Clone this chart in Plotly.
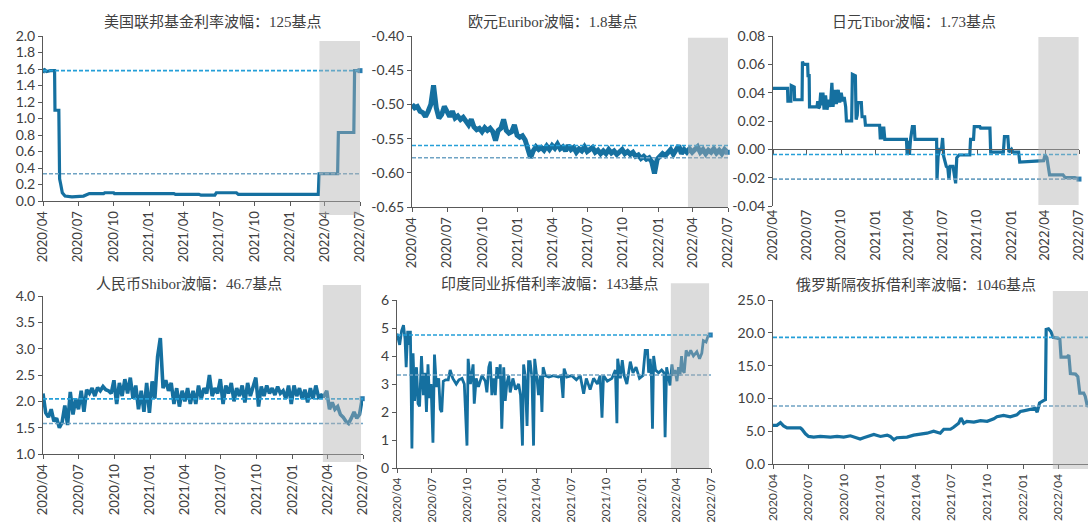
import plotly.graph_objects as go
import pandas as pd

# ---------------- data ----------------
QUARTER_TICKS = ["2020-04-01", "2020-07-01", "2020-10-01", "2021-01-01", "2021-04-01",
                 "2021-07-01", "2021-10-01", "2022-01-01", "2022-04-01", "2022-07-01"]
QUARTER_LABELS = ["2020/04", "2020/07", "2020/10", "2021/01", "2021/04",
                  "2021/07", "2021/10", "2022/01", "2022/04", "2022/07"]

TITLES = ["美国联邦基金利率波幅：125基点", "欧元Euribor波幅：1.8基点", "日元Tibor波幅：1.73基点",
          "人民币Shibor波幅：46.7基点", "印度同业拆借利率波幅：143基点", "俄罗斯隔夜拆借利率波幅：1046基点"]

FED_DATES = ["2020-04-01", "2020-04-03", "2020-04-10", "2020-04-20", "2020-05-01", "2020-05-02",
             "2020-05-12", "2020-05-14", "2020-05-17", "2020-05-21", "2020-05-28", "2020-06-15",
             "2020-07-15", "2020-07-22", "2020-07-30", "2020-09-05", "2020-09-08", "2020-10-01",
             "2020-10-03", "2021-03-06", "2021-03-10", "2021-05-10", "2021-05-15", "2021-06-20",
             "2021-06-24", "2021-08-15", "2021-08-20", "2022-03-15", "2022-03-17", "2022-05-04",
             "2022-05-06", "2022-06-15", "2022-06-17", "2022-07-01"]
FED_VALUES = [1.55, 1.60, 1.57, 1.58, 1.58, 1.10, 1.10, 0.27, 0.20, 0.10, 0.06, 0.05,
              0.06, 0.07, 0.09, 0.09, 0.10, 0.10, 0.09, 0.09, 0.08, 0.08, 0.07, 0.07,
              0.10, 0.10, 0.08, 0.08, 0.33, 0.33, 0.83, 0.83, 1.58, 1.58]

EURIBOR_START = "2020-04-01"
EURIBOR_VALUES = [
    -0.500, -0.505, -0.503, -0.510, -0.512, -0.518, -0.510, -0.500, -0.472, -0.505,
    -0.520, -0.515, -0.503, -0.512, -0.518, -0.510, -0.520, -0.517, -0.522, -0.519,
    -0.525, -0.530, -0.522, -0.533, -0.537, -0.535, -0.540, -0.534, -0.538, -0.535,
    -0.540, -0.553, -0.538, -0.535, -0.522, -0.538, -0.542, -0.540, -0.530, -0.545,
    -0.548, -0.546, -0.552, -0.565, -0.578, -0.568, -0.562, -0.566, -0.563, -0.567,
    -0.561, -0.566, -0.560, -0.564, -0.558, -0.565, -0.562, -0.568, -0.560, -0.566,
    -0.563, -0.570, -0.565, -0.568, -0.562, -0.569, -0.566, -0.563, -0.570, -0.567,
    -0.572, -0.568, -0.572, -0.566, -0.571, -0.568, -0.573, -0.569, -0.566, -0.572,
    -0.569, -0.573, -0.570, -0.576, -0.574, -0.579, -0.576, -0.580, -0.578, -0.584,
    -0.601, -0.580, -0.576, -0.572, -0.575, -0.570, -0.566, -0.573, -0.567, -0.560,
    -0.572, -0.566, -0.570, -0.565, -0.570, -0.566, -0.562, -0.570, -0.566, -0.572,
    -0.567, -0.570, -0.565, -0.571, -0.567, -0.572, -0.566, -0.570]

TIBOR_DATES = [
    "2020-04-01", "2020-05-10", "2020-05-11", "2020-05-19", "2020-05-20", "2020-05-28", "2020-05-29",
    "2020-06-18", "2020-06-19", "2020-06-22", "2020-07-03", "2020-07-04", "2020-07-07", "2020-07-08",
    "2020-07-28", "2020-07-30", "2020-08-01", "2020-08-04", "2020-08-07", "2020-08-10", "2020-08-13",
    "2020-08-16", "2020-08-20", "2020-08-24", "2020-08-28", "2020-09-02", "2020-09-06", "2020-09-09",
    "2020-09-14", "2020-09-18", "2020-09-23", "2020-09-27", "2020-10-01", "2020-10-05", "2020-10-09",
    "2020-10-13", "2020-10-15", "2020-10-29", "2020-10-31", "2020-11-08", "2020-11-10", "2020-11-13",
    "2020-11-15", "2020-11-24", "2020-11-26", "2020-12-03", "2020-12-05", "2021-01-12", "2021-01-14",
    "2021-01-17", "2021-01-20", "2021-01-23", "2021-01-26", "2021-03-25", "2021-03-27", "2021-03-30",
    "2021-04-02", "2021-04-05", "2021-04-10", "2021-04-15", "2021-04-17", "2021-06-14", "2021-06-15",
    "2021-06-18", "2021-06-22", "2021-06-27", "2021-06-30", "2021-07-03", "2021-07-10", "2021-07-14",
    "2021-07-17", "2021-07-20", "2021-07-28", "2021-08-04", "2021-08-07", "2021-08-13", "2021-09-11",
    "2021-09-13", "2021-09-21", "2021-09-23", "2021-10-08", "2021-10-10", "2021-11-04", "2021-11-06",
    "2021-12-10", "2021-12-13", "2021-12-22", "2021-12-25", "2022-01-01", "2022-01-05", "2022-01-20",
    "2022-01-23", "2022-03-28", "2022-04-01", "2022-04-06", "2022-04-13", "2022-05-19", "2022-05-25",
    "2022-06-20", "2022-07-01"]
TIBOR_VALUES = [
    0.043, 0.043, 0.034, 0.034, 0.045, 0.044, 0.035,
    0.035, 0.062, 0.060, 0.060, 0.052, 0.052, 0.030,
    0.030, 0.034, 0.029, 0.030, 0.040, 0.031, 0.040,
    0.028, 0.038, 0.028, 0.035, 0.030, 0.047, 0.030,
    0.042, 0.032, 0.042, 0.033, 0.040, 0.034, 0.037,
    0.030, 0.020, 0.020, 0.053, 0.052, 0.021, 0.024,
    0.033, 0.033, 0.023, 0.023, 0.017, 0.017, 0.007,
    0.016, 0.007, 0.016, 0.007, 0.007, -0.004, 0.006,
    -0.004, 0.007, 0.016, 0.016, 0.007, 0.007, -0.021,
    -0.005, 0.000, 0.000, 0.008, -0.005, -0.012, -0.013,
    -0.021, -0.012, -0.012, -0.024, -0.006, -0.004, -0.004,
    0.007, 0.007, 0.016, 0.016, 0.015, 0.015, -0.002,
    -0.002, 0.009, 0.009, -0.002, 0.000, -0.002, -0.002,
    -0.009, -0.008, -0.004, -0.006, -0.018, -0.018, -0.020,
    -0.020, -0.021]

SHIBOR_START = "2020-04-01"
SHIBOR_VALUES = [
    2.15, 1.78, 1.70, 1.85, 1.62, 1.68, 1.50, 1.60, 1.92, 1.55,
    2.18, 1.75, 2.05, 1.85, 2.20, 1.80, 2.22, 2.15, 2.25, 2.10,
    2.26, 2.20, 2.28, 2.22, 2.20, 2.15, 2.40, 1.95, 2.35, 2.10,
    2.42, 2.15, 2.45, 2.05, 2.30, 1.85, 2.20, 1.80, 2.35, 1.78,
    2.38, 2.05, 2.85, 3.20, 2.25, 2.40, 2.20, 2.35, 1.95, 2.25,
    1.90, 2.20, 2.00, 2.25, 1.95, 2.20, 1.95, 2.30, 2.05, 2.25,
    2.15, 2.50, 2.10, 2.25, 2.15, 2.42, 1.95, 2.30, 2.15, 2.35,
    2.00, 2.25, 2.10, 2.30, 1.98, 2.35, 2.10, 2.30, 2.45, 1.90,
    2.28, 2.10, 2.30, 2.15, 2.25, 2.12, 2.28, 2.15, 2.20, 2.05,
    2.30, 1.95, 2.30, 2.10, 2.25, 2.05, 2.22, 1.98, 2.25, 2.05,
    2.30, 2.08, 2.12, 2.10, 2.20, 1.85, 1.98, 1.85, 1.90, 1.75,
    1.70, 1.62, 1.58, 1.68, 1.80, 1.68, 1.75, 2.05]

INDIA_DATES = [
    "2020-04-01", "2020-04-08", "2020-04-13", "2020-04-18", "2020-04-22", "2020-04-25", "2020-04-29",
    "2020-05-02", "2020-05-06", "2020-05-08", "2020-05-10", "2020-05-13", "2020-05-17", "2020-05-22",
    "2020-05-26", "2020-05-30", "2020-06-04", "2020-06-09", "2020-06-13", "2020-06-17", "2020-06-21",
    "2020-06-25", "2020-06-29", "2020-07-04", "2020-07-08", "2020-07-13", "2020-07-19", "2020-07-23",
    "2020-07-27", "2020-07-31", "2020-08-06", "2020-08-13", "2020-08-18", "2020-08-25", "2020-09-03",
    "2020-09-10", "2020-09-18", "2020-09-24", "2020-10-01", "2020-10-04", "2020-10-10", "2020-10-17",
    "2020-10-20", "2020-10-25", "2020-10-31", "2020-11-09", "2020-11-18", "2020-11-22", "2020-11-27",
    "2020-12-01", "2020-12-05", "2020-12-10", "2020-12-14", "2020-12-18", "2020-12-23", "2020-12-27",
    "2020-12-31", "2021-01-05", "2021-01-09", "2021-01-13", "2021-01-18", "2021-01-22", "2021-01-29",
    "2021-02-05", "2021-02-13", "2021-02-18", "2021-02-23", "2021-02-26", "2021-03-02", "2021-03-07",
    "2021-03-11", "2021-03-15", "2021-03-20", "2021-03-24", "2021-03-27", "2021-04-02", "2021-04-06",
    "2021-04-11", "2021-04-15", "2021-04-18", "2021-04-24", "2021-05-03", "2021-05-15", "2021-05-28",
    "2021-06-04", "2021-06-09", "2021-06-12", "2021-06-19", "2021-07-02", "2021-07-14", "2021-07-24",
    "2021-08-02", "2021-08-09", "2021-08-19", "2021-08-28", "2021-09-07", "2021-09-14", "2021-09-19",
    "2021-09-23", "2021-10-03", "2021-10-15", "2021-10-24", "2021-10-28", "2021-10-30", "2021-11-06",
    "2021-11-11", "2021-11-16", "2021-11-23", "2021-12-02", "2021-12-09", "2021-12-17", "2021-12-26",
    "2022-01-04", "2022-01-10", "2022-01-16", "2022-01-19", "2022-01-23", "2022-01-26", "2022-01-29",
    "2022-02-01", "2022-02-06", "2022-02-14", "2022-02-22", "2022-02-28", "2022-03-03", "2022-03-07",
    "2022-03-12", "2022-03-16", "2022-03-21", "2022-03-25", "2022-03-29", "2022-04-03", "2022-04-07",
    "2022-04-11", "2022-04-15", "2022-04-18", "2022-04-22", "2022-04-27", "2022-05-03", "2022-05-09",
    "2022-05-16", "2022-05-25", "2022-06-01", "2022-06-07", "2022-06-11", "2022-06-18", "2022-06-23",
    "2022-06-29"]
INDIA_VALUES = [
    4.80, 4.40, 4.90, 5.10, 4.60, 3.60, 4.90,
    4.40, 4.90, 1.20, 0.70, 4.10, 2.40, 3.60,
    2.30, 2.20, 4.00, 2.60, 3.40, 2.00, 3.70,
    2.50, 3.00, 0.90, 4.05, 2.90, 3.20, 2.10,
    2.00, 3.10, 3.15, 3.15, 3.50, 3.20, 3.00,
    3.15, 3.20, 3.00, 0.80, 3.90, 3.00, 3.70,
    2.30, 3.20, 2.90, 3.30, 3.10, 2.70, 3.60,
    3.80, 2.60, 3.20, 2.60, 3.60, 3.20, 3.70,
    1.40, 3.60, 2.40, 3.00, 3.30, 2.70, 3.20,
    2.80, 3.00, 2.60, 0.80, 3.70, 3.30, 1.50,
    3.80, 3.80, 3.20, 0.80, 3.90, 3.20, 2.60,
    3.30, 2.00, 3.60, 3.30, 3.25, 3.30, 3.25,
    3.30, 2.50, 3.55, 3.25, 3.30, 3.15, 3.30,
    2.65, 3.20, 2.80, 3.20, 3.00, 3.30, 1.80,
    3.30, 3.10, 3.20, 3.50, 1.60, 3.90, 3.20,
    3.85, 3.30, 3.00, 3.80, 3.40, 3.60, 3.20,
    3.30, 4.20, 4.20, 3.40, 3.90, 3.30, 1.40,
    4.00, 3.50, 3.40, 3.50, 3.40, 1.10, 3.60,
    3.30, 2.95, 3.70, 3.30, 3.50, 3.10, 3.60,
    3.30, 4.00, 3.50, 3.40, 4.20, 4.00, 4.20,
    4.00, 4.15, 3.90, 4.10, 4.55, 4.50, 4.70,
    4.75]

RUSSIA_DATES = [
    "2020-04-01", "2020-04-11", "2020-04-20", "2020-04-28", "2020-05-07", "2020-06-10", "2020-06-14",
    "2020-06-23", "2020-07-01", "2020-07-14", "2020-07-31", "2020-08-26", "2020-09-12", "2020-09-29",
    "2020-10-16", "2020-11-02", "2020-11-10", "2020-11-19", "2020-12-06", "2020-12-15", "2021-01-01",
    "2021-01-18", "2021-01-26", "2021-02-04", "2021-02-12", "2021-03-10", "2021-03-27", "2021-04-13",
    "2021-04-30", "2021-05-17", "2021-06-03", "2021-06-12", "2021-06-29", "2021-07-07", "2021-07-20",
    "2021-07-26", "2021-08-02", "2021-08-10", "2021-08-28", "2021-09-14", "2021-10-01", "2021-10-18",
    "2021-10-26", "2021-11-12", "2021-11-29", "2021-12-16", "2021-12-25", "2022-01-02", "2022-01-20",
    "2022-02-01", "2022-02-06", "2022-02-12", "2022-02-23", "2022-02-27", "2022-03-01", "2022-03-07",
    "2022-03-13", "2022-03-19", "2022-03-29", "2022-04-05", "2022-04-08", "2022-04-23", "2022-04-28",
    "2022-05-02", "2022-05-15", "2022-05-21", "2022-05-26", "2022-06-05", "2022-06-09", "2022-06-14",
    "2022-06-20"]
RUSSIA_VALUES = [
    5.9, 5.9, 6.3, 5.8, 5.5, 5.5, 5.3,
    4.6, 4.2, 4.1, 4.2, 4.1, 4.2, 4.1,
    4.3, 4.0, 3.8, 4.0, 4.3, 4.5, 4.2,
    4.4, 4.2, 3.7, 4.0, 4.1, 4.4, 4.5,
    4.7, 5.0, 4.7, 5.3, 5.3, 5.6, 6.2,
    7.0, 6.2, 6.5, 6.4, 6.6, 6.5, 6.9,
    7.2, 7.4, 7.2, 7.5, 8.0, 8.1, 8.3,
    8.5, 7.9, 9.3, 9.7, 9.8, 20.5, 20.6,
    20.2, 19.3, 19.2, 19.0, 16.3, 16.3, 16.6,
    13.8, 13.7, 13.3, 10.8, 10.8, 10.3, 8.9,
    8.8]

BAND_UPPER = [1.58, -0.560, -0.0037, 2.047, 4.75, 19.30]
BAND_LOWER = [0.33, -0.578, -0.0210, 1.580, 3.32, 8.84]

SHADE_START = ["2022-03-18", "2022-03-19", "2022-03-14", "2022-03-20", "2022-03-18", "2022-03-18"]
SHADE_END = ["2022-07-01", "2022-07-01", "2022-06-30", "2022-06-26", "2022-06-26", "2022-07-20"]

Y_TICKS = [
    [0.0, 0.2, 0.4, 0.6, 0.8, 1.0, 1.2, 1.4, 1.6, 1.8, 2.0],
    [-0.65, -0.60, -0.55, -0.50, -0.45, -0.40],
    [-0.04, -0.02, 0.00, 0.02, 0.04, 0.06, 0.08],
    [1.0, 1.5, 2.0, 2.5, 3.0, 3.5, 4.0],
    [0, 1, 2, 3, 4, 5, 6],
    [0.0, 5.0, 10.0, 15.0, 20.0, 25.0],
]
Y_LABELS = [
    ["0.0", "0.2", "0.4", "0.6", "0.8", "1.0", "1.2", "1.4", "1.6", "1.8", "2.0"],
    ["-0.65", "-0.60", "-0.55", "-0.50", "-0.45", "-0.40"],
    ["-0.04", "-0.02", "0.00", "0.02", "0.04", "0.06", "0.08"],
    ["1.0", "1.5", "2.0", "2.5", "3.0", "3.5", "4.0"],
    ["0", "1", "2", "3", "4", "5", "6"],
    ["0.0", "5.0", "10.0", "15.0", "20.0", "25.0"],
]

# ---------------- build ----------------
W, H = 1088, 522
euribor_dates = pd.date_range(EURIBOR_START, periods=len(EURIBOR_VALUES), freq="7D")
shibor_dates = pd.date_range(SHIBOR_START, periods=len(SHIBOR_VALUES), freq="7D")

series = [
    (FED_DATES, FED_VALUES),
    (euribor_dates, EURIBOR_VALUES),
    (TIBOR_DATES, TIBOR_VALUES),
    (shibor_dates, SHIBOR_VALUES),
    (INDIA_DATES, INDIA_VALUES),
    (RUSSIA_DATES, RUSSIA_VALUES),
]

BOXES = [(43, 360, 36, 201), (412, 728, 36, 207), (773, 1079, 36, 206),
         (43, 363, 296, 454), (397, 711, 300, 468), (773, 1088, 300, 464)]
X_END = ["2022-07-01", "2022-07-01", "2022-07-01", "2022-07-01", "2022-07-01", "2022-06-16"]
SHADE_Y = [(-0.085, 0.97), (0.0, 0.99), (0.006, 0.994), (-0.05, 1.07), (0.0, 1.10), (-0.03, 1.055)]
TITLE_POS = [(213, 22), (553, 22), (914, 22), (189, 284), (550, 284), (916, 285)]
LINE_WIDTH = [3.2, 5.0, 3.2, 3.6, 2.8, 3.2]
XTICK_SIZE = [13, 13, 13, 13, 11.5, 12]

LINE_COLOR = "#1570a0"
UPPER_COLOR = "#259fd8"
LOWER_COLOR = "#6fa3c4"
AXIS_COLOR = "#595959"
TEXT_COLOR = "#404040"
TICK_FAMILY = "Lato, Liberation Sans, sans-serif"
YTICK_FONT = dict(family=TICK_FAMILY, size=14, color=TEXT_COLOR)

fig = go.Figure()
shapes = []
annotations = []
layout = {}

for i in range(6):
    n = i + 1
    xn = "x" if n == 1 else f"x{n}"
    yn = "y" if n == 1 else f"y{n}"
    xkey = "xaxis" if n == 1 else f"xaxis{n}"
    ykey = "yaxis" if n == 1 else f"yaxis{n}"
    l, r, t, b = BOXES[i]
    xdom = [l / W, min(r / W, 1.0)]
    ydom = [1 - b / H, 1 - t / H]

    xs, ys = series[i]
    fig.add_trace(go.Scatter(x=list(xs), y=ys, mode="lines", xaxis=xn, yaxis=yn,
                             line=dict(color=LINE_COLOR, width=LINE_WIDTH[i]),
                             showlegend=False, hoverinfo="skip"))
    fig.add_trace(go.Scatter(x=[list(xs)[-1]], y=[ys[-1]], mode="markers", xaxis=xn, yaxis=yn,
                             marker=dict(color="#2a7db0", size=5, symbol="square"),
                             showlegend=False, hoverinfo="skip", cliponaxis=False))

    yt = Y_TICKS[i]
    is_tibor = (n == 3)
    layout[xkey] = dict(
        domain=xdom, anchor=yn, type="date",
        range=["2020-04-01", X_END[i]],
        tickvals=QUARTER_TICKS, ticktext=QUARTER_LABELS, tickangle=-90,
        ticks="" if is_tibor else "outside", ticklen=4, tickcolor=AXIS_COLOR,
        showline=not is_tibor, linecolor=AXIS_COLOR, linewidth=1,
        showgrid=False, zeroline=False, automargin=False,
        tickfont=dict(family=TICK_FAMILY, size=XTICK_SIZE[i], color=TEXT_COLOR),
    )
    layout[ykey] = dict(
        domain=ydom, anchor=xn, range=[yt[0], yt[-1]],
        tickvals=yt, ticktext=Y_LABELS[i],
        ticks="outside", ticklen=4, tickcolor=AXIS_COLOR,
        showline=True, linecolor=AXIS_COLOR, linewidth=1,
        showgrid=False, zeroline=False, tickfont=YTICK_FONT, automargin=False,
    )

    if is_tibor:
        # horizontal axis crossing at zero, with tick marks
        zero_pos = ydom[0] + (0 - yt[0]) / (yt[-1] - yt[0]) * (ydom[1] - ydom[0])
        layout["xaxis7"] = dict(
            overlaying="x3", anchor="free", position=zero_pos, type="date",
            range=["2020-04-01", X_END[i]], tickvals=QUARTER_TICKS,
            showticklabels=False, ticks="outside", ticklen=4, tickcolor=AXIS_COLOR,
            showline=True, linecolor=AXIS_COLOR, linewidth=1, showgrid=False, zeroline=False,
        )
        fig.add_trace(go.Scatter(x=[QUARTER_TICKS[0]], y=[0], xaxis="x7", yaxis="y3",
                                 mode="markers", marker=dict(size=0.1, opacity=0),
                                 showlegend=False, hoverinfo="skip"))

    # volatility band dashed lines
    for val, col in ((BAND_UPPER[i], UPPER_COLOR), (BAND_LOWER[i], LOWER_COLOR)):
        shapes.append(dict(type="line", xref=f"{xn} domain", yref=yn, x0=0, x1=1,
                           y0=val, y1=val, layer="above",
                           line=dict(color=col, width=1.6, dash="4px,2px")))
    # shaded recent window (translucent overlay)
    sy0, sy1 = SHADE_Y[i]
    shapes.append(dict(type="rect", xref=xn, yref=f"{yn} domain",
                       x0=SHADE_START[i], x1=SHADE_END[i], y0=sy0, y1=sy1,
                       layer="above", line=dict(width=0),
                       fillcolor="rgba(178,178,178,0.45)"))

    tx, ty = TITLE_POS[i]
    annotations.append(dict(text=TITLES[i], x=tx / W, y=1 - ty / H, xref="paper", yref="paper",
                            xanchor="center", yanchor="middle", showarrow=False,
                            font=dict(family="Liberation Serif, Noto Sans CJK SC", size=15,
                                      color=TEXT_COLOR)))

fig.update_layout(
    width=W, height=H, margin=dict(l=0, r=0, t=0, b=0, pad=0), autosize=False,
    paper_bgcolor="white", plot_bgcolor="rgba(0,0,0,0)",
    shapes=shapes, annotations=annotations, showlegend=False,
    **layout,
)

fig.write_html("out.html", config={"displayModeBar": False},
               post_script="document.body.style.margin='0';document.body.style.overflow='hidden';")
